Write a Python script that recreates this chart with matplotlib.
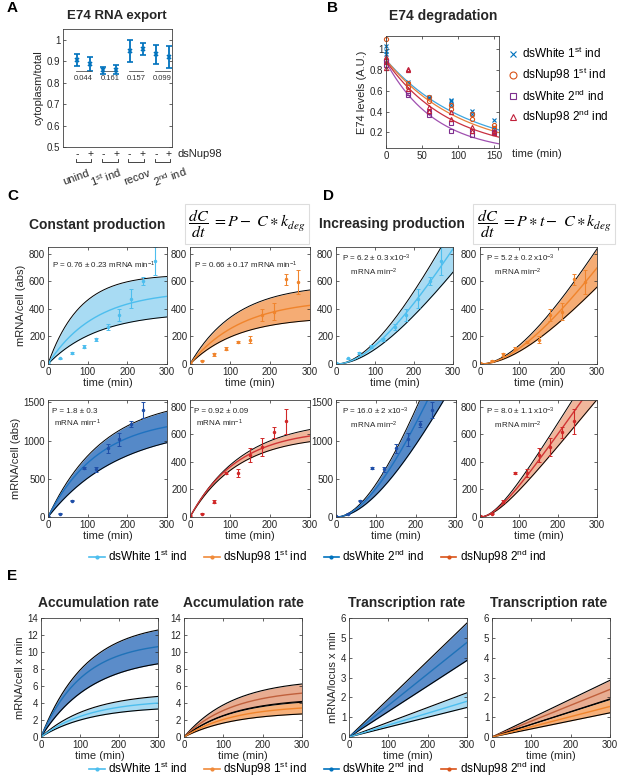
import numpy as np
import matplotlib
matplotlib.use('Agg')
import matplotlib.pyplot as plt
from matplotlib.lines import Line2D

plt.rcParams['font.family'] = ['Liberation Sans', 'DejaVu Sans']
plt.rcParams['mathtext.fontset'] = 'custom'
plt.rcParams['mathtext.rm'] = 'Liberation Sans'
plt.rcParams['mathtext.it'] = 'Liberation Sans:italic'
plt.rcParams['mathtext.bf'] = 'Liberation Sans:bold'

# ---------------- data ----------------
# Panel A
A_vals = [0.905, 0.885, 0.857, 0.860, 0.949, 0.957, 0.932, 0.918]
A_err = [0.028, 0.033, 0.018, 0.020, 0.052, 0.030, 0.044, 0.052]
A_signs = ['-', '+', '-', '+', '-', '+', '-', '+']
A_groups = ['unind', r'1$^{\mathrm{st}}$ ind', 'recov', r'2$^{\mathrm{nd}}$ ind']
A_pvals = ['0.044', '0.161', '0.157', '0.099']

# Panel B
B_time = [0, 30, 60, 90, 120, 150]
B_w1 = [[1.03, 0.99, 0.96], [0.69, 0.67], [0.54, 0.53], [0.51, 0.50, 0.46], [0.41, 0.38], [0.32, 0.25]]
B_n1 = [[1.10, 0.90], [0.68, 0.64], [0.54, 0.50], [0.46, 0.43], [0.38, 0.33], [0.27, 0.24]]
B_w2 = [[0.89, 0.85], [0.58, 0.56], [0.40, 0.37], [0.29, 0.21], [0.21, 0.18], [0.20, 0.19]]
B_n2 = [[0.93, 0.88, 0.82], [0.81, 0.80, 0.62], [0.45, 0.41], [0.40, 0.33], [0.25, 0.21], [0.21, 0.19]]
B_fit_start = [0.90, 0.90, 0.88, 0.89]
B_fit_k = [0.00887, 0.00964, 0.0145, 0.01115]
B_labels = [r'dsWhite 1$^{\mathrm{st}}$ ind', r'dsNup98 1$^{\mathrm{st}}$ ind',
            r'dsWhite 2$^{\mathrm{nd}}$ ind', r'dsNup98 2$^{\mathrm{nd}}$ ind']

# Panels C/D data
t_1st = [0, 30, 60, 90, 120, 150, 180, 210, 240, 270]
w1_mean = [8, 40, 80, 125, 180, 270, 355, 475, 605, 750]
w1_err = [3, 5, 8, 10, 10, 20, 45, 70, 30, 100]
n1_mean = [8, 25, 70, 110, 160, 175, 355, 380, 615, 595]
n1_err = [3, 5, 10, 10, 10, 25, 45, 60, 40, 90]
t_2nd = [0, 30, 60, 90, 120, 150, 180, 210, 240]
w2_mean = [8, 45, 215, 640, 625, 900, 1015, 1220, 1400]
w2_err = [5, 5, 10, 10, 30, 60, 80, 40, 100]
n2_mean = [8, 25, 110, 320, 320, 450, 510, 615, 695]
n2_err = [3, 5, 10, 10, 30, 50, 65, 40, 90]

# fitted model parameters (plateau amplitude, k_deg) for lower / mean / upper curves
C_w1 = [(377, 0.0079), (533, 0.0085), (651, 0.0125)]
C_n1 = [(344, 0.0084), (472, 0.00777), (581, 0.00868)]
C_w2 = [(1203, 0.0055), (1306, 0.0078), (1566, 0.00715)]
C_n2 = [(595, 0.0084), (640, 0.0084), (708, 0.0076)]
# increasing production: (P/k, k_deg)
D_w1 = [(3.82, 0.007), (4.79, 0.007), (5.72, 0.007)]
D_n1 = [(3.20, 0.007), (4.00, 0.007), (4.79, 0.007)]
D_w2 = [(10.3, 0.007), (13.3, 0.007), (15.35, 0.007)]
D_n2 = [(3.41, 0.02), (4.00, 0.02), (4.53, 0.02)]

C_texts = ['P = 0.76 ± 0.23 mRNA min$^{-1}$', 'P = 0.66 ± 0.17 mRNA min$^{-1}$',
           'P = 1.8 ± 0.3\n mRNA min$^{-1}$', 'P = 0.92 ± 0.09\n mRNA min$^{-1}$']
D_texts = ['P = 6.2 ± 0.3 x10$^{-3}$\n    mRNA min$^{-2}$', 'P = 5.2 ± 0.2 x10$^{-3}$\n    mRNA min$^{-2}$',
           'P = 16.0 ± 2 x10$^{-3}$\n    mRNA min$^{-2}$', 'P = 8.0 ± 1.1 x10$^{-3}$\n    mRNA min$^{-2}$']

# Panel E
E_acc_w1 = [(3.62, 0.008), (4.39, 0.008), (5.25, 0.008)]
E_acc_w2 = [(9.54, 0.00776), (11.3, 0.0094), (13.6, 0.00865)]
E_acc_n1 = [(2.98, 0.008), (3.75, 0.008), (4.50, 0.008)]
E_acc_n2 = [(4.60, 0.008), (5.67, 0.008), (6.86, 0.008)]
E_tx_w1 = [1.49, 1.80, 2.23]
E_tx_w2 = [3.86, 4.77, 5.75]
E_tx_n1 = [1.22, 1.54, 1.89]
E_tx_n2 = [1.92, 2.40, 2.86]

legend_labels = B_labels

# ---------------- colors ----------------
col = {
    'w1': dict(line='#4DBEEE', fill='#A8DBF3', pt='#4DBEEE'),
    'n1': dict(line='#F0842C', fill='#F5AC74', pt='#F0842C'),
    'w2': dict(line='#1F72C0', fill='#5589C8', pt='#1F4FA8'),
    'n2': dict(line='#D03535', fill='#F0B69C', pt='#D02828'),
}
E_col = {
    'w1': dict(line='#4DBEEE', fill='#A8DBF3'),
    'w2': dict(line='#1F72B8', fill='#5B8CC9'),
    'n1': dict(line='#F0842C', fill='#F6B07A'),
    'n2': dict(line='#C0603C', fill='#E8AD92'),
}
leg_colors = ['#4DBEEE', '#F08A3A', '#0072BD', '#D95319']
dark = '#262626'

# ---------------- figure ----------------
W, H = 617, 780
fig = plt.figure(figsize=(W / 100, H / 100), dpi=100)


def axpx(l, t, r, b):
    return fig.add_axes([l / W, 1 - b / H, (r - l) / W, (b - t) / H])


def ftxt(x, y, s, **kw):
    kw.setdefault('color', dark)
    return fig.text(x / W, 1 - y / H, s, **kw)


def style(ax, ls=6):
    for sp in ax.spines.values():
        sp.set_linewidth(0.6)
        sp.set_color('#404040')
    ax.tick_params(direction='in', length=2, width=0.5, top=True, right=True,
                   labelsize=ls, colors=dark, pad=2)


# ---- Panel A ----
axA = axpx(63, 29, 172, 147)
style(axA)
xA = np.arange(1, 9)
axA.errorbar(xA, A_vals, yerr=A_err, fmt='x', color='#0072BD', ms=3, mew=1.2,
             elinewidth=1.3, capsize=2, capthick=1.2)
axA.set_xlim(-0.07, 8.23)
axA.set_ylim(0.5, 1.05)
axA.set_yticks([0.5, 0.6, 0.7, 0.8, 0.9, 1.0])
axA.set_yticklabels(['0.5', '0.6', '0.7', '0.8', '0.9', '1'])
axA.set_xticks([])
axA.tick_params(labelsize=7)
axA.set_ylabel('cytoplasm/total', fontsize=8, color=dark, labelpad=2)
trA = axA.get_xaxis_transform()
for i in range(4):
    x1, x2 = xA[2 * i], xA[2 * i + 1]
    axA.plot([x1 - 0.05, x2 + 0.05], [0.853, 0.853], color='#555555', lw=0.6)
    axA.text((x1 + x2) / 2, 0.818, A_pvals[i], fontsize=5.5, ha='center', va='center', color='#333333')
    axA.plot([x1 - 0.1, x1 - 0.1, x2 + 0.1, x2 + 0.1], [-0.105, -0.125, -0.125, -0.105],
             transform=trA, clip_on=False, color=dark, lw=0.6)
for x, s in zip(xA, A_signs):
    axA.text(x, -0.06, s, transform=trA, ha='center', va='center', fontsize=7.5, color=dark)
ftxt(178, 154, 'dsNup98', fontsize=8, ha='left', va='center')
for cx, g in zip([76, 106, 137, 170], A_groups):
    ftxt(cx, 177, g, fontsize=8, rotation=20, ha='center', va='center')
ftxt(117, 16, 'E74 RNA export', fontsize=9.5, fontweight='bold', ha='center', va='center')

# ---- Panel B ----
axB = axpx(386, 36, 499, 148)
style(axB)
b_series = [B_w1, B_n1, B_w2, B_n2]
b_markers = ['x', 'o', 's', '^']
b_mcol = ['#0072BD', '#D95319', '#7E2F8E', '#C0203A']
b_lcol = ['#3DA5E0', '#E8803A', '#A050B0', '#C83040']
tt = np.linspace(0, 157, 200)
handles_B = []
for ser, m, mc, lc, y0, k in zip(b_series, b_markers, b_mcol, b_lcol, B_fit_start, B_fit_k):
    axB.plot(tt, y0 * np.exp(-k * tt), color=lc, lw=0.9)
    xs = [t for t, reps in zip(B_time, ser) for _ in reps]
    ys = [v for reps in ser for v in reps]
    if m == 'x':
        axB.plot(xs, ys, m, color=mc, ms=3, mew=0.8, clip_on=False)
    else:
        axB.plot(xs, ys, m, mfc='none', mec=mc, ms=3, mew=0.8, clip_on=False)
    handles_B.append(Line2D([0], [0], ls='none', marker=m, ms=5, mew=0.8,
                            mfc=(mc if m == 'x' else 'none'), mec=mc, color=mc))
axB.set_xlim(0, 157)
axB.set_ylim(0.05, 1.13)
axB.set_xticks([0, 50, 100, 150])
axB.set_yticks([0.2, 0.4, 0.6, 0.8, 1.0])
axB.set_yticklabels(['0.2', '0.4', '0.6', '0.8', '1'])
axB.tick_params(labelsize=7)
axB.set_ylabel('E74 levels (A.U.)', fontsize=8, color=dark, labelpad=2)
ftxt(512, 154, 'time (min)', fontsize=8, ha='left', va='center')
fig.legend(handles_B, B_labels, loc='center left', bbox_to_anchor=(502 / W, 1 - 86 / H),
           frameon=False, fontsize=8.5, handlelength=0.8, handletextpad=0.4, labelspacing=0.4,
           borderpad=0)
ftxt(443, 16, 'E74 degradation', fontsize=10, fontweight='bold', ha='center', va='center')

# ---- Panels C/D ----
tf = np.linspace(0, 300, 301)


def const_curve(p):
    A, k = p
    return A * (1 - np.exp(-k * tf))


def incr_curve(p):
    A, k = p
    return A * (tf - (1 - np.exp(-k * tf)) / k)


def band(ax, params, fn, c):
    lo, me, hi = [fn(p) for p in params]
    ax.fill_between(tf, lo, hi, color=c['fill'], lw=0)
    ax.plot(tf, lo, color='black', lw=0.7)
    ax.plot(tf, hi, color='black', lw=0.7)
    ax.plot(tf, me, color=c['line'], lw=1.0)


def pts(ax, t, m, e, c):
    ax.errorbar(t, m, yerr=e, fmt='.', color=c['pt'], ms=3, elinewidth=0.8,
                capsize=1.3, capthick=0.7)


panel_defs = [
    ((48, 247, 167, 364), C_w1, const_curve, 'w1', t_1st, w1_mean, w1_err, 850, [0, 200, 400, 600, 800], C_texts[0]),
    ((190, 247, 310, 364), C_n1, const_curve, 'n1', t_1st, n1_mean, n1_err, 850, [0, 200, 400, 600, 800], C_texts[1]),
    ((48, 400, 167, 517), C_w2, const_curve, 'w2', t_2nd, w2_mean, w2_err, 1530, [0, 500, 1000, 1500], C_texts[2]),
    ((190, 400, 310, 517), C_n2, const_curve, 'n2', t_2nd, n2_mean, n2_err, 850, [0, 200, 400, 600, 800], C_texts[3]),
    ((336, 247, 453, 364), D_w1, incr_curve, 'w1', t_1st, w1_mean, w1_err, 850, [0, 200, 400, 600, 800], D_texts[0]),
    ((480, 247, 597, 364), D_n1, incr_curve, 'n1', t_1st, n1_mean, n1_err, 850, [0, 200, 400, 600, 800], D_texts[1]),
    ((336, 400, 456, 517), D_w2, incr_curve, 'w2', t_2nd, w2_mean, w2_err, 1530, [0, 500, 1000, 1500], D_texts[2]),
    ((480, 400, 597, 517), D_n2, incr_curve, 'n2', t_2nd, n2_mean, n2_err, 850, [0, 200, 400, 600, 800], D_texts[3]),
]
for i, (box, params, fn, key, tv, mv, ev, ymax, yt, txt) in enumerate(panel_defs):
    ax = axpx(*box)
    style(ax, 7)
    band(ax, params, fn, col[key])
    pts(ax, tv, mv, ev, col[key])
    ax.set_xlim(0, 300)
    ax.set_ylim(0, ymax)
    ax.set_xticks([0, 100, 200, 300])
    ax.set_yticks(yt)
    ax.set_xlabel('time (min)', fontsize=8, color=dark, labelpad=1)
    if i in (0, 2):
        ax.set_ylabel('mRNA/cell (abs)', fontsize=8, color=dark, labelpad=2)
    ax.text(0.03 if i < 4 else 0.05, 0.84, txt, transform=ax.transAxes, fontsize=5.8,
            ha='left', va='center', color=dark, linespacing=1.3)

ftxt(97, 225, 'Constant production', fontsize=10, fontweight='bold', ha='center', va='center')
ftxt(392, 224, 'Increasing production', fontsize=10, fontweight='bold', ha='center', va='center')
eq_box = dict(boxstyle='square,pad=0.2', fc='white', ec='#DDDDDD', lw=0.8)
ftxt(247, 224, r'$\dfrac{dC}{dt}\;=P-\ C\ast k_{deg}$', fontsize=11.5, ha='center', va='center',
     math_fontfamily='stix', bbox=eq_box, color='black')
ftxt(544, 224, r'$\dfrac{dC}{dt}\;=P\ast t-\ C\ast k_{deg}$', fontsize=11.5, ha='center', va='center',
     math_fontfamily='stix', bbox=eq_box, color='black')

leg_handles = [Line2D([0], [0], color=c, lw=1.2, marker='.', ms=4) for c in leg_colors]
fig.legend(leg_handles, legend_labels, loc='center', bbox_to_anchor=(318 / W, 1 - 557 / H), ncol=4,
           frameon=False, fontsize=8.5, handlelength=1.3, handletextpad=0.3, columnspacing=1.4, borderpad=0)

# ---- Panel E ----
def eband(ax, lo, me, hi, c):
    ax.fill_between(tf, lo, hi, color=c['fill'], lw=0)
    ax.plot(tf, lo, color='black', lw=0.8)
    ax.plot(tf, hi, color='black', lw=0.8)
    ax.plot(tf, me, color=c['line'], lw=1.0)


axE1 = axpx(41, 618, 158, 737)
axE2 = axpx(184, 618, 302, 737)
axE3 = axpx(349, 618, 467, 737)
axE4 = axpx(492, 618, 610, 737)
for ax, (pA, kA), (pB, kB) in [(axE1, ('w2', E_acc_w2), ('w1', E_acc_w1)),
                               (axE2, ('n2', E_acc_n2), ('n1', E_acc_n1))]:
    for key, params in [(pA, kA), (pB, kB)]:
        lo, me, hi = [const_curve(p) for p in params]
        eband(ax, lo, me, hi, E_col[key])
    ax.set_ylim(0, 14)
    ax.set_yticks(range(0, 15, 2))
for ax, (pA, kA), (pB, kB) in [(axE3, ('w2', E_tx_w2), ('w1', E_tx_w1)),
                               (axE4, ('n2', E_tx_n2), ('n1', E_tx_n1))]:
    for key, vals in [(pA, kA), (pB, kB)]:
        lo, me, hi = [tf / 300 * v for v in vals]
        eband(ax, lo, me, hi, E_col[key])
    ax.set_ylim(0, 6)
    ax.set_yticks(range(0, 7))
for ax in (axE1, axE2, axE3, axE4):
    style(ax, 7)
    ax.set_xlim(0, 300)
    ax.set_xticks([0, 100, 200, 300])
    ax.set_xlabel('time (min)', fontsize=8, color=dark, labelpad=1)
axE1.set_ylabel('mRNA/cell x min', fontsize=8, color=dark, labelpad=2)
axE3.set_ylabel('mRNA/locus x min', fontsize=8, color=dark, labelpad=2)
ftxt(98, 603, 'Accumulation rate', fontsize=10, fontweight='bold', ha='center', va='center')
ftxt(243, 603, 'Accumulation rate', fontsize=10, fontweight='bold', ha='center', va='center')
ftxt(407, 603, 'Transcription rate', fontsize=10, fontweight='bold', ha='center', va='center')
ftxt(549, 603, 'Transcription rate', fontsize=10, fontweight='bold', ha='center', va='center')
leg_handles2 = [Line2D([0], [0], color=c, lw=1.2, marker='.', ms=4) for c in leg_colors]
fig.legend(leg_handles2, legend_labels, loc='center', bbox_to_anchor=(318 / W, 1 - 769 / H), ncol=4,
           frameon=False, fontsize=8.5, handlelength=1.3, handletextpad=0.3, columnspacing=1.4, borderpad=0)

# ---- panel letters ----
for s, x, y in [('A', 7, 8), ('B', 327, 8), ('C', 7, 196), ('D', 323, 196), ('E', 7, 576)]:
    ftxt(x, y, s, fontsize=11, fontweight='bold', ha='left', va='center', color='black')

fig.savefig('out.png', dpi=100)
